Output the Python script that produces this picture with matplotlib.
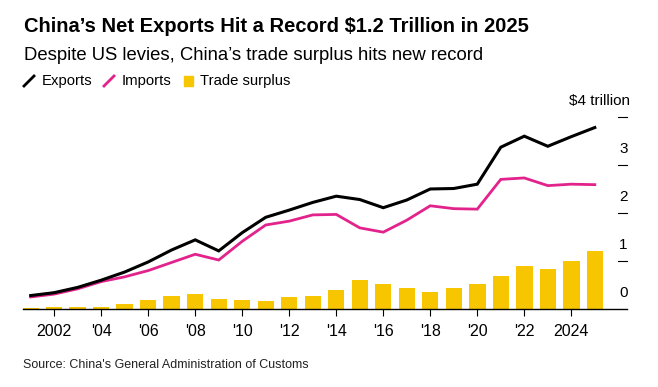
import matplotlib
matplotlib.use("Agg")
import matplotlib.pyplot as plt
import matplotlib.transforms as mtransforms
from matplotlib.lines import Line2D
from matplotlib.patches import Rectangle

plt.rcParams['font.family'] = ['Liberation Sans', 'DejaVu Sans']

# values in $ trillion
years = list(range(2001, 2026))
exports = [0.27, 0.33, 0.44, 0.59, 0.76, 0.97, 1.22, 1.43, 1.20, 1.58, 1.90, 2.05, 2.21, 2.34, 2.27,
           2.10, 2.26, 2.49, 2.50, 2.59, 3.36, 3.59, 3.38, 3.58, 3.77]
imports = [0.24, 0.30, 0.41, 0.56, 0.66, 0.79, 0.96, 1.13, 1.01, 1.40, 1.74, 1.82, 1.95, 1.96, 1.68,
           1.59, 1.84, 2.14, 2.08, 2.07, 2.69, 2.72, 2.56, 2.59, 2.58]
surplus = [0.02, 0.03, 0.03, 0.03, 0.10, 0.18, 0.26, 0.30, 0.20, 0.18, 0.16, 0.23, 0.26, 0.38, 0.59,
           0.51, 0.42, 0.35, 0.42, 0.52, 0.68, 0.88, 0.82, 0.99, 1.19]
xtick_years = list(range(2002, 2025, 2))
xtick_labels = ["2002", "'04", "'06", "'08", "'10", "'12", "'14", "'16", "'18", "'20", "'22", "2024"]
ytick_vals = [0, 1, 2, 3, 4]
ytick_labels = ["0", "1", "2", "3", "$4 trillion"]

black = "#000000"
magenta = "#e2238c"
yellow = "#f7c600"

W, H = 658, 387
fig = plt.figure(figsize=(W / 100, H / 100), dpi=100)

left_px, right_px = 22.7, 627
top_px, bot_px = 100, 308.5
ax = fig.add_axes([left_px / W, 1 - bot_px / H, (right_px - left_px) / W, (bot_px - top_px) / H])

ax.bar(years, surplus, width=0.7, color=yellow, zorder=1)
ax.plot(years, exports, color=black, lw=2.2, zorder=3, solid_joinstyle='miter')
ax.plot(years, imports, color=magenta, lw=2.0, zorder=2, solid_joinstyle='miter')

ax.set_xlim(2000.66, 2026.37)
ax.set_ylim(0, (bot_px - top_px) / 48)

for s in ['top', 'left', 'right']:
    ax.spines[s].set_visible(False)
ax.spines['bottom'].set_color(black)
ax.spines['bottom'].set_linewidth(1.0)
ax.spines['bottom'].set_zorder(4)

ax.set_xticks(xtick_years)
ax.set_xticklabels(xtick_labels, fontsize=11.5)
ax.tick_params(axis='x', direction='out', length=5, width=0.8, pad=6, colors=black)
ax.set_yticks([])

# right side value ticks
trans = mtransforms.blended_transform_factory(ax.transAxes, ax.transData)
x0 = (618 - left_px) / (right_px - left_px)
x1 = 1.0
xc = (623.5 - left_px) / (right_px - left_px)
for v, lab in zip(ytick_vals, ytick_labels):
    if v > 0:
        ax.plot([x0, x1], [v, v], color=black, lw=0.8, transform=trans, clip_on=False)
    if v == 4:
        ax.text((630 - left_px) / (right_px - left_px), v + 0.18, lab, transform=trans,
                ha='right', va='bottom', fontsize=11)
    else:
        ax.text(xc, v + 0.18, lab, transform=trans, ha='center', va='bottom', fontsize=11)

# titles
fig.text(24 / W, 1 - 26 / H, "China\u2019s Net Exports Hit a Record $1.2 Trillion in 2025",
         fontsize=14.5, fontweight='bold', va='center', ha='left')
fig.text(24 / W, 1 - 55 / H, "Despite US levies, China\u2019s trade surplus hits new record",
         fontsize=13.3, va='center', ha='left')

# legend
ly = 1 - 81 / H
fig.add_artist(Line2D([24 / W, 34 / W], [1 - 86 / H, 1 - 76 / H], color=black, lw=2))
fig.text(42 / W, ly, "Exports", fontsize=10.7, va='center', ha='left')
fig.add_artist(Line2D([104 / W, 114 / W], [1 - 86 / H, 1 - 76 / H], color=magenta, lw=2))
fig.text(122 / W, ly, "Imports", fontsize=10.7, va='center', ha='left')
fig.add_artist(Rectangle((184 / W, 1 - 86 / H), 9 / W, 10 / H, color=yellow, transform=fig.transFigure))
fig.text(200 / W, ly, "Trade surplus", fontsize=10.7, va='center', ha='left')

fig.text(23 / W, 1 - 365 / H, "Source: China's General Administration of Customs",
         fontsize=9, va='center', ha='left', color="#222222")

fig.savefig("out.png", dpi=100, facecolor='white')
